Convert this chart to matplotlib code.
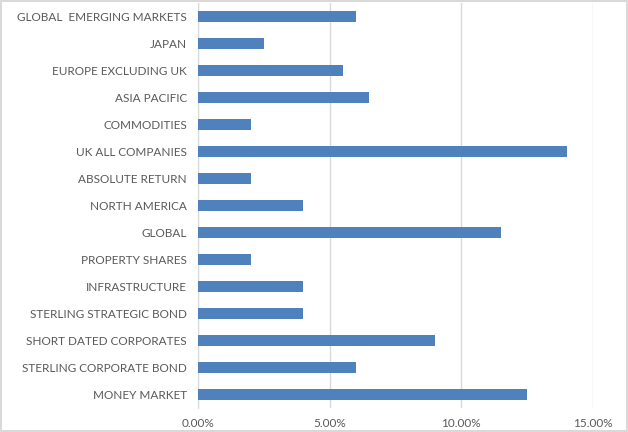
import matplotlib
matplotlib.use("Agg")
import matplotlib.pyplot as plt
from matplotlib.ticker import FuncFormatter

categories = ["GLOBAL  EMERGING MARKETS", "JAPAN", "EUROPE EXCLUDING UK", "ASIA PACIFIC",
              "COMMODITIES", "UK ALL COMPANIES", "ABSOLUTE RETURN", "NORTH AMERICA",
              "GLOBAL", "PROPERTY SHARES", "INFRASTRUCTURE", "STERLING STRATEGIC BOND",
              "SHORT DATED CORPORATES", "STERLING CORPORATE BOND", "MONEY MARKET"]
values = [0.06, 0.025, 0.055, 0.065, 0.02, 0.14, 0.02, 0.04,
          0.115, 0.02, 0.04, 0.04, 0.09, 0.06, 0.125]
xticks = [0.0, 0.05, 0.10, 0.15]

plt.rcParams['font.family'] = ['Lato', 'DejaVu Sans']

fig = plt.figure(figsize=(6.28, 4.32), dpi=100)
fig.patch.set_edgecolor('#d9d9d9')
fig.patch.set_linewidth(1.5)
ax = fig.add_axes([198/628, 24/432, 395/628, 405/432])

pos = list(range(len(categories)))
ax.barh(pos, values, height=0.42, color='#4f81bd', zorder=3)
ax.set_ylim(len(categories) - 0.5, -0.5)
ax.set_xlim(0, 0.15)
ax.set_yticks(pos)
ax.set_yticklabels(categories)
ax.set_xticks(xticks)
ax.xaxis.set_major_formatter(FuncFormatter(lambda v, p: f"{v*100:.2f}%"))
ax.tick_params(length=0, labelsize=8.5, labelcolor='#595959')
ax.tick_params(axis='y', pad=8)
ax.tick_params(axis='x', pad=7)
ax.grid(axis='x', color='#d9d9d9', linewidth=1, zorder=0)
for s in ['top', 'right', 'bottom']:
    ax.spines[s].set_visible(False)
ax.spines['left'].set_color('#d9d9d9')

fig.savefig('out.png', dpi=100)
